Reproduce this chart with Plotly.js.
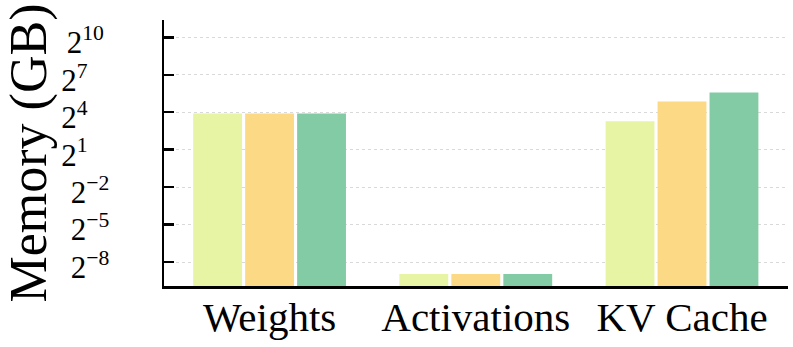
<!DOCTYPE html>
<html>
<head>
<meta charset="utf-8">
<script src="https://cdn.plot.ly/plotly-3.0.1.min.js"></script>
<style>
  html, body { margin: 0; padding: 0; background: #fff; }
  #chart { width: 793px; height: 347px; }
  #nudge { position: absolute; left: 0; top: 0; width: 1px; height: 1px; overflow: hidden; font: 10px monospace; color: #fff; }
</style>
</head>
<body>
<div id="chart"></div>
<div id="nudge"></div>
<script>
// memory breakdown, values in GB
const categories = ['Weights', 'Activations', 'KV Cache'];
const seriesNames = ['Setting 1', 'Setting 2', 'Setting 3'];
const series1 = [14.9, 0.002, 9.7];
const series2 = [14.9, 0.002, 29];
const series3 = [14.9, 0.002, 47.8];
const seriesColors = ['#e6f4a3', '#fbd985', '#82cba5'];

const exponents = [-8, -5, -2, 1, 4, 7, 10];
const tickVals = exponents.map(e => Math.pow(2, e));
// nbsp padding so the labels look left-aligned like the original
const tickText = [
  '2<sup>\u22128</sup>', '2<sup>\u22125</sup>', '2<sup>\u22122</sup>',
  '2<sup>1\u00a0\u00a0\u00a0\u00a0</sup>', '2<sup>4\u00a0\u00a0\u00a0\u00a0</sup>',
  '2<sup>7\u00a0\u00a0\u00a0\u00a0</sup>', '2<sup>10\u00a0</sup>'
];

const SERIF = 'Liberation Serif';

const traces = [series1, series2, series3].map((vals, i) => ({
  type: 'bar',
  name: seriesNames[i],
  x: categories,
  y: vals,
  marker: { color: seriesColors[i] },
  hoverinfo: 'x+y'
}));

const layout = {
  width: 793, height: 347,
  paper_bgcolor: '#fff', plot_bgcolor: '#fff',
  margin: { l: 164, r: 5, t: 20, b: 61 },
  showlegend: false,
  barmode: 'group',
  bargap: 0.244,
  bargroupgap: 0.06,
  font: { family: SERIF, color: '#000' },
  xaxis: {
    type: 'category',
    range: [-0.512, 2.514],
    showline: true, linecolor: '#000', linewidth: 2.5,
    ticks: '', showgrid: false, zeroline: false,
    tickfont: { family: SERIF, size: 41, color: '#000' },
    ticklabelstandoff: -7
  },
  yaxis: {
    type: 'log',
    range: [-2.987, 3.4275],
    tickvals: tickVals,
    ticktext: tickText,
    showline: true, linecolor: '#000', linewidth: 2.5,
    ticks: 'inside', ticklen: 10, tickwidth: 2.5, tickcolor: '#000',
    showgrid: true, gridcolor: '#d9d9d9', gridwidth: 1, griddash: 'dot',
    zeroline: false,
    tickfont: { family: SERIF, size: 31, color: '#000' },
    ticklabelstandoff: 46,
    ticklabelshift: 5,
    title: { text: 'Memory (GB)', font: { family: SERIF, size: 52, color: '#000' }, standoff: 6 }
  }
};

const CONFIG = { displayModeBar: false, staticPlot: true };

// tick labels painted with the fallback face unless something forced a
// style read + repaint after the plot (seen in the debug runs)
Plotly.newPlot('chart', traces, layout, CONFIG).then(() => {
  const t = document.querySelector('.xtick text');
  const y = document.querySelector('.ytick text');
  document.getElementById('nudge').textContent =
    '\u00a0' + (t ? getComputedStyle(t).fontFamily.length : 0) + (y ? getComputedStyle(y).fontFamily.length : 0);
});
</script>
</body>
</html>
